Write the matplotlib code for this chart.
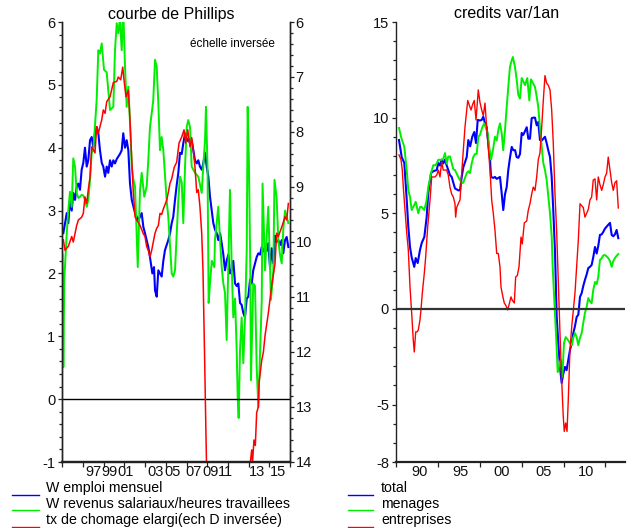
import numpy as np
import matplotlib
matplotlib.use("Agg")
import matplotlib.pyplot as plt
from matplotlib.lines import Line2D

plt.rcParams['font.family'] = ['Liberation Sans', 'DejaVu Sans']
plt.rcParams['axes.unicode_minus'] = False

# ---- left panel: courbe de Phillips (decimal year, value) ----
emploi = [(1995.10, 2.64), (1995.43, 2.96), (1995.58, 2.8), (1995.74, 3.17), (1995.91, 3.0),
          (1996.06, 3.28), (1996.23, 3.17), (1996.39, 3.38), (1996.55, 3.43), (1996.71, 3.33),
          (1996.87, 3.65), (1997.03, 3.76), (1997.19, 4.0), (1997.36, 3.7), (1997.51, 3.8),
          (1997.68, 4.12), (1997.84, 4.17), (1998.00, 4.0), (1998.16, 4.23), (1998.32, 4.33),
          (1998.48, 4.23), (1998.64, 3.96), (1998.81, 3.76), (1998.96, 3.7), (1999.13, 3.54),
          (1999.29, 3.7), (1999.44, 3.6), (1999.61, 3.8), (1999.77, 3.7), (1999.93, 3.8),
          (2000.09, 3.75), (2000.26, 3.82), (2000.41, 3.86), (2000.57, 3.9), (2000.74, 3.96),
          (2000.89, 4.23), (2001.06, 4.0), (2001.22, 4.12), (2001.38, 3.96), (2001.54, 3.43),
          (2001.71, 3.17), (2002.03, 2.96), (2002.34, 2.85), (2002.51, 2.9), (2002.67, 2.96),
          (2002.83, 2.74), (2002.99, 2.64), (2003.31, 2.42), (2003.47, 2.26), (2003.70, 2.0),
          (2003.86, 2.1), (2003.96, 1.73), (2004.12, 1.63), (2004.28, 2.05), (2004.44, 2.0),
          (2004.60, 1.95), (2004.76, 2.2), (2004.92, 2.37), (2005.24, 2.53), (2005.41, 2.64),
          (2005.57, 2.8), (2005.72, 2.9), (2005.89, 3.17), (2006.05, 3.4), (2006.21, 3.6),
          (2006.37, 3.92), (2006.54, 3.9), (2006.69, 4.07), (2006.86, 4.23), (2007.02, 4.1),
          (2007.17, 4.15), (2007.34, 4.07), (2007.50, 4.12), (2007.66, 3.96), (2007.82, 3.8),
          (2007.99, 3.75), (2008.14, 3.8), (2008.30, 3.7), (2008.47, 3.65), (2008.62, 3.75),
          (2008.79, 3.92), (2008.95, 3.7), (2009.11, 3.54), (2009.27, 3.22), (2009.44, 3.0),
          (2009.59, 2.8), (2009.75, 2.7), (2009.92, 2.64), (2010.07, 2.53), (2010.24, 2.64),
          (2010.40, 2.48), (2010.56, 2.3), (2010.72, 2.05), (2010.88, 2.2), (2011.04, 2.3),
          (2011.20, 2.0), (2011.37, 2.05), (2011.52, 2.2), (2011.69, 1.84), (2011.85, 1.8),
          (2012.01, 1.84), (2012.17, 1.53), (2012.33, 1.5), (2012.49, 1.37), (2012.65, 1.3),
          (2012.82, 1.6), (2012.97, 1.63), (2013.14, 1.9), (2013.30, 1.84), (2013.45, 2.05),
          (2013.62, 2.16), (2013.78, 2.26), (2013.94, 2.32), (2014.11, 2.3), (2014.27, 2.42),
          (2014.43, 2.35), (2014.59, 2.42), (2014.75, 2.36), (2014.90, 2.48), (2015.07, 2.1),
          (2015.23, 2.4), (2015.39, 2.16), (2015.55, 2.6), (2015.71, 2.5), (2015.87, 2.53),
          (2016.03, 2.45), (2016.20, 2.53), (2016.35, 2.32), (2016.52, 2.53), (2016.68, 2.58),
          (2016.84, 2.42)]

revenus = [(1995.02, 2.3), (1995.10, 0.51), (1995.19, 1.9), (1995.43, 2.64), (1995.58, 3.0),
           (1995.74, 3.3), (1995.91, 3.06), (1996.06, 3.83), (1996.23, 3.7), (1996.39, 3.28),
           (1996.55, 3.2), (1996.71, 3.22), (1996.87, 3.25), (1997.03, 3.24), (1997.19, 3.17),
           (1997.36, 3.06), (1997.51, 3.17), (1997.68, 3.49), (1997.84, 3.92), (1998.00, 3.96),
           (1998.32, 4.76), (1998.48, 5.55), (1998.64, 5.5), (1998.81, 5.66), (1999.03, 5.24),
           (1999.29, 5.2), (1999.61, 4.6), (1999.93, 4.65), (2000.09, 5.55), (2000.26, 5.98),
           (2000.41, 5.82), (2000.57, 6.05), (2000.74, 5.55), (2000.89, 6.2), (2001.06, 5.29),
           (2001.22, 4.65), (2001.38, 4.97), (2001.54, 4.4), (2001.71, 3.7), (2001.86, 3.5),
           (2002.03, 3.38), (2002.29, 2.1), (2002.51, 3.33), (2002.67, 3.6), (2002.92, 3.22),
           (2003.15, 3.38), (2003.31, 3.8), (2003.47, 4.33), (2003.64, 4.55), (2003.79, 4.76),
           (2003.96, 5.4), (2004.12, 5.29), (2004.28, 4.7), (2004.44, 3.96), (2004.60, 4.17),
           (2004.76, 3.96), (2005.09, 3.15), (2005.24, 2.9), (2005.57, 2.0), (2005.72, 1.95),
           (2005.89, 2.05), (2006.21, 3.17), (2006.37, 3.54), (2006.54, 3.45), (2006.69, 2.8),
           (2006.86, 3.7), (2007.02, 4.33), (2007.17, 4.44), (2007.34, 4.33), (2007.50, 3.7),
           (2007.82, 3.6), (2008.14, 3.54), (2008.47, 3.28), (2008.62, 3.7), (2008.79, 4.12),
           (2008.88, 4.65), (2009.03, 3.7), (2009.14, 1.53), (2009.27, 1.84), (2009.44, 2.2),
           (2009.69, 2.1), (2009.75, 2.53), (2010.07, 3.06), (2010.24, 2.53), (2010.40, 2.1),
           (2010.56, 1.84), (2010.72, 1.69), (2010.88, 0.94), (2011.04, 2.1), (2011.20, 3.33),
           (2011.37, 2.1), (2011.52, 1.3), (2011.69, 1.6), (2011.85, 0.78), (2011.95, 0.0),
           (2012.04, -0.3), (2012.17, 0.78), (2012.33, 1.3), (2012.49, 0.57), (2012.65, 1.3),
           (2012.82, 2.37), (2012.91, 4.65), (2013.04, 3.7), (2013.16, 2.1), (2013.23, 0.3),
           (2013.45, 1.84), (2013.62, 1.8), (2013.78, 0.51), (2013.94, -0.13), (2014.11, 0.78),
           (2014.27, 1.58), (2014.35, 3.43), (2014.49, 2.6), (2014.59, 2.05), (2014.75, 2.6),
           (2014.90, 3.06), (2015.02, 2.4), (2015.16, 1.58), (2015.39, 2.05), (2015.50, 3.49),
           (2015.71, 3.2), (2015.87, 2.53), (2016.03, 2.3), (2016.20, 2.16), (2016.35, 2.7),
           (2016.52, 3.0), (2016.68, 2.9), (2016.84, 2.8)]

# taux de chomage elargi, right axis (inverted)
chomage = [(1995.10, 9.96), (1995.26, 10.15), (1995.58, 10.08), (1995.91, 9.9), (1996.06, 10.0),
           (1996.39, 9.7), (1996.55, 9.6), (1996.87, 9.55), (1997.03, 9.48), (1997.19, 9.18),
           (1997.36, 9.3), (1997.51, 9.05), (1997.68, 8.82), (1997.84, 8.27), (1998.16, 8.38),
           (1998.32, 7.9), (1998.48, 8.02), (1998.81, 7.78), (1998.96, 7.6), (1999.13, 7.66),
           (1999.29, 7.45), (1999.61, 7.36), (1999.93, 7.1), (2000.26, 7.08), (2000.41, 7.0),
           (2000.64, 7.05), (2000.84, 6.82), (2000.96, 7.05), (2001.15, 7.36), (2001.38, 7.24),
           (2001.54, 7.78), (2001.71, 8.5), (2001.86, 9.1), (2002.03, 9.54), (2002.19, 9.6),
           (2002.51, 9.7), (2002.83, 9.85), (2002.99, 9.9), (2003.15, 10.08), (2003.31, 10.15),
           (2003.47, 10.27), (2003.64, 10.15), (2003.79, 10.0), (2003.96, 9.84), (2004.12, 9.75),
           (2004.28, 9.7), (2004.44, 9.48), (2004.60, 9.5), (2004.76, 9.4), (2005.09, 9.24),
           (2005.24, 9.1), (2005.41, 8.93), (2005.57, 8.85), (2005.82, 8.64), (2006.05, 8.55),
           (2006.28, 8.2), (2006.54, 8.09), (2006.76, 7.96), (2006.92, 8.2), (2007.12, 7.96),
           (2007.34, 8.27), (2007.50, 8.1), (2007.66, 8.33), (2007.82, 8.64), (2007.99, 9.1),
           (2008.14, 9.05), (2008.30, 9.36), (2008.47, 9.84), (2008.59, 10.5), (2008.74, 12.0),
           (2008.88, 13.5), (2009.03, 15.0), (2009.17, 16.0), (2009.75, 17.0), (2010.43, 17.1),
           (2011.20, 16.5), (2011.98, 15.8), (2012.65, 14.8), (2013.04, 14.3), (2013.14, 14.05),
           (2013.30, 13.78), (2013.38, 14.0), (2013.52, 13.6), (2013.65, 13.7), (2013.78, 13.1),
           (2013.94, 13.0), (2014.01, 12.56), (2014.27, 12.15), (2014.43, 12.0), (2014.59, 11.7),
           (2014.90, 11.3), (2015.23, 10.8), (2015.55, 10.4), (2015.71, 9.84), (2015.87, 9.9),
           (2016.20, 9.73), (2016.52, 9.54), (2016.68, 9.6), (2016.84, 9.3)]

left_labels = ['97', '99', '01', '03', '05', '07', '09', '11', '13', '15']
left_label_pos = [1998.06, 1999.58, 2001.09, 2004.02, 2005.63, 2007.72, 2009.37, 2010.79, 2013.78, 2015.84]

# ---- right panel: credits var/1an ----
total = [(1988.36, 8.83), (1988.68, 7.94), (1988.99, 7.63), (1989.28, 5.7), (1989.47, 4.3),
         (1989.67, 3.24), (1989.87, 2.7), (1990.18, 2.2), (1990.35, 2.66), (1990.59, 2.4),
         (1990.86, 3.08), (1991.07, 3.45), (1991.38, 3.76), (1991.66, 4.8), (1991.85, 6.06),
         (1992.18, 7.1), (1992.45, 7.2), (1992.86, 7.26), (1993.05, 7.63), (1993.25, 7.5),
         (1993.45, 7.8), (1993.64, 7.6), (1993.85, 7.8), (1994.05, 7.5), (1994.24, 7.26),
         (1994.44, 7.0), (1994.65, 6.9), (1994.84, 6.6), (1995.04, 6.3), (1995.43, 6.2),
         (1995.64, 6.2), (1995.84, 6.9), (1996.03, 7.4), (1996.44, 7.94), (1996.63, 8.83),
         (1996.85, 8.5), (1997.10, 9.0), (1997.34, 9.25), (1997.55, 8.67), (1997.75, 9.88),
         (1998.02, 9.85), (1998.23, 9.88), (1998.42, 10.05), (1998.62, 9.7), (1998.82, 9.5),
         (1999.01, 8.67), (1999.22, 7.8), (1999.34, 6.9), (1999.61, 6.85), (1999.81, 6.9),
         (2000.02, 6.8), (2000.41, 6.9), (2000.61, 6.06), (2000.80, 5.17), (2001.01, 6.0),
         (2001.21, 6.37), (2001.40, 7.26), (2001.60, 7.9), (2001.81, 8.47), (2002.00, 8.3),
         (2002.21, 8.3), (2002.40, 7.94), (2002.60, 7.9), (2002.80, 8.1), (2003.00, 9.2),
         (2003.19, 9.1), (2003.40, 9.3), (2003.60, 9.5), (2003.79, 8.9), (2003.99, 8.9),
         (2004.19, 9.97), (2004.38, 10.0), (2004.59, 10.0), (2004.79, 9.6), (2004.98, 9.77),
         (2005.18, 8.83), (2005.39, 8.8), (2005.58, 8.9), (2005.78, 9.0), (2005.98, 8.67),
         (2006.17, 8.3), (2006.38, 7.94), (2006.58, 6.9), (2006.77, 5.17), (2006.97, 3.08),
         (2007.18, -0.42), (2007.37, -1.78), (2007.57, -3.03), (2007.77, -3.87), (2007.96, -3.4),
         (2008.17, -3.03), (2008.36, -3.2), (2008.56, -2.67), (2008.76, -2.15), (2008.97, -1.8),
         (2009.16, -1.26), (2009.36, -0.9), (2009.56, -0.42), (2009.76, -0.3), (2009.96, 0.63),
         (2010.16, 0.83), (2010.35, 1.2), (2010.55, 1.52), (2010.75, 1.8), (2010.95, 2.14),
         (2011.15, 2.2), (2011.35, 2.3), (2011.54, 2.7), (2011.75, 3.24), (2011.95, 2.9),
         (2012.14, 3.3), (2012.34, 3.87), (2012.55, 3.9), (2012.74, 4.03), (2012.94, 4.2),
         (2013.33, 4.4), (2013.54, 4.5), (2013.74, 3.87), (2013.93, 3.8), (2014.13, 3.9),
         (2014.33, 4.13), (2014.53, 3.7)]

menages = [(1988.36, 9.46), (1988.60, 9.0), (1988.99, 8.47), (1989.28, 7.26), (1989.47, 6.2),
           (1989.67, 5.85), (1989.87, 5.17), (1990.06, 5.33), (1990.35, 5.6), (1990.66, 5.0),
           (1990.86, 5.33), (1991.07, 5.33), (1991.38, 5.17), (1991.66, 5.7), (1991.85, 6.37),
           (1992.18, 7.1), (1992.45, 7.52), (1992.66, 7.5), (1992.86, 7.6), (1993.05, 7.8),
           (1993.45, 7.8), (1993.64, 7.85), (1993.85, 8.15), (1994.05, 7.6), (1994.24, 7.97),
           (1994.44, 7.97), (1994.65, 7.63), (1994.84, 7.3), (1995.04, 7.26), (1995.43, 6.9),
           (1995.84, 6.58), (1996.03, 6.6), (1996.44, 7.1), (1996.63, 7.2), (1996.83, 7.1),
           (1997.03, 7.6), (1997.22, 7.94), (1997.43, 8.1), (1997.63, 8.1), (1997.82, 8.99),
           (1998.02, 9.1), (1998.30, 9.5), (1998.54, 9.7), (1998.70, 9.5), (1998.94, 9.2),
           (1999.13, 8.47), (1999.34, 7.8), (1999.57, 8.3), (1999.81, 9.0), (2000.02, 8.8),
           (2000.21, 9.35), (2000.41, 9.7), (2000.61, 9.2), (2000.80, 8.3), (2001.01, 9.35),
           (2001.21, 10.56), (2001.40, 11.6), (2001.60, 12.65), (2001.81, 13.0), (2001.95, 13.17),
           (2002.20, 12.65), (2002.40, 12.0), (2002.59, 11.2), (2002.80, 11.0), (2003.00, 12.07),
           (2003.19, 11.9), (2003.40, 11.7), (2003.67, 12.07), (2003.91, 10.9), (2004.11, 12.0),
           (2004.35, 11.8), (2004.59, 11.6), (2004.79, 11.1), (2004.98, 10.56), (2005.18, 9.5),
           (2005.39, 8.47), (2005.58, 7.63), (2005.78, 7.26), (2005.98, 6.74), (2006.38, 5.0),
           (2006.58, 3.8), (2006.70, 2.2), (2006.89, 0.47), (2007.09, -1.26), (2007.30, -3.3),
           (2007.45, -3.0), (2007.65, -2.67), (2007.85, -3.55), (2008.05, -1.78), (2008.25, -1.47),
           (2008.49, -1.6), (2008.76, -1.78), (2008.97, -1.9), (2009.16, -1.5), (2009.36, -1.26),
           (2009.56, -1.47), (2009.76, -1.9), (2009.96, -1.5), (2010.16, -1.26), (2010.35, -0.73),
           (2010.55, -0.21), (2010.75, 0.1), (2010.95, 0.57), (2011.15, 0.4), (2011.35, 0.3),
           (2011.54, 0.99), (2011.75, 1.41), (2011.95, 1.3), (2012.14, 1.67), (2012.34, 2.56),
           (2012.55, 2.66), (2012.74, 2.8), (2012.94, 2.82), (2013.13, 2.75), (2013.33, 2.66),
           (2013.54, 2.5), (2013.74, 2.2), (2013.93, 2.5), (2014.13, 2.66), (2014.33, 2.78),
           (2014.53, 2.87)]

entreprises = [(1988.36, 8.05), (1988.60, 7.8), (1988.75, 7.26), (1988.87, 6.37), (1989.07, 5.17),
               (1989.28, 3.97), (1989.47, 3.08), (1989.67, 1.15), (1989.87, -0.21), (1990.06, -1.62),
               (1990.18, -2.25), (1990.35, -1.2), (1990.51, -1.2), (1990.66, -1.1), (1990.86, -0.58),
               (1990.98, -0.05), (1991.14, 0.83), (1991.38, 1.88), (1991.54, 2.7), (1991.78, 4.28),
               (1992.06, 5.7), (1992.26, 6.9), (1992.45, 6.9), (1992.65, 6.9), (1992.86, 7.0),
               (1993.05, 7.26), (1993.25, 6.9), (1993.45, 7.68), (1993.64, 7.26), (1993.85, 7.26),
               (1994.05, 7.26), (1994.24, 7.0), (1994.44, 6.37), (1994.65, 6.0), (1994.84, 5.85),
               (1995.04, 5.5), (1995.12, 4.8), (1995.24, 5.3), (1995.43, 5.5), (1995.64, 5.7),
               (1995.84, 7.1), (1996.03, 8.3), (1996.23, 9.5), (1996.56, 10.9), (1996.71, 10.7),
               (1996.95, 10.4), (1997.15, 10.7), (1997.34, 10.9), (1997.55, 9.88), (1997.82, 11.45),
               (1998.02, 10.8), (1998.23, 10.4), (1998.42, 10.1), (1998.62, 10.76), (1998.82, 9.5),
               (1999.01, 8.47), (1999.22, 7.26), (1999.42, 5.7), (1999.61, 5.0), (1999.81, 4.13),
               (2000.02, 2.9), (2000.21, 2.9), (2000.41, 2.2), (2000.53, 1.15), (2000.68, 0.8),
               (2000.92, 0.31), (2001.09, 0.2), (2001.33, -0.05), (2001.48, 0.2), (2001.72, 0.63),
               (2001.88, 0.45), (2002.12, 0.31), (2002.28, 1.67), (2002.48, 1.75), (2002.68, 2.2),
               (2002.92, 3.76), (2003.07, 3.4), (2003.31, 4.5), (2003.60, 4.6), (2003.79, 5.17),
               (2003.99, 5.5), (2004.19, 6.0), (2004.38, 6.37), (2004.59, 6.2), (2004.79, 6.9),
               (2004.98, 7.8), (2005.18, 8.15), (2005.39, 9.5), (2005.58, 10.9), (2005.78, 12.2),
               (2005.98, 11.8), (2006.17, 11.7), (2006.38, 11.45), (2006.58, 10.4), (2006.77, 8.67),
               (2006.97, 6.06), (2007.18, 3.97), (2007.37, 1.36), (2007.57, -1.26), (2007.77, -3.7),
               (2007.96, -5.6), (2008.08, -6.4), (2008.25, -5.96), (2008.41, -6.4), (2008.56, -4.76),
               (2008.76, -2.15), (2008.97, -0.94), (2009.16, -0.1), (2009.36, 0.83), (2009.56, 2.2),
               (2009.76, 3.6), (2009.96, 5.5), (2010.16, 5.4), (2010.35, 5.3), (2010.55, 4.8),
               (2010.75, 5.0), (2010.95, 5.2), (2011.15, 5.7), (2011.35, 5.85), (2011.54, 6.74),
               (2011.75, 6.8), (2011.95, 5.7), (2012.14, 6.9), (2012.34, 6.5), (2012.55, 6.2),
               (2012.74, 6.5), (2012.94, 6.9), (2013.14, 7.1), (2013.33, 7.94), (2013.54, 7.26),
               (2013.74, 6.6), (2013.93, 6.2), (2014.13, 6.6), (2014.33, 6.7), (2014.53, 5.28)]

right_labels = ['90', '95', '00', '05', '10']
right_label_pos = [1990.86, 1995.72, 2000.65, 2005.66, 2010.64]

BLUE, GREEN, RED = '#0000ff', '#00ee00', '#ff0000'
AXC = '#222222'

fig = plt.figure(figsize=(6.34, 5.28), dpi=100)
W, H = 634.0, 528.0
ax = fig.add_axes([62.3 / W, 1 - 462 / H, 227.7 / W, 440 / H])
axr = ax.twinx()
ax2 = fig.add_axes([396 / W, 1 - 462 / H, 229 / W, 440 / H])


def style(a, spines):
    for s in ['top', 'right', 'left', 'bottom']:
        a.spines[s].set_visible(s in spines)
        a.spines[s].set_color(AXC)
        a.spines[s].set_linewidth(1.0)
    a.spines['bottom'].set_linewidth(1.6)
    a.tick_params(axis='both', which='both', direction='out', color=AXC,
                  width=0.9, labelsize=10.5, colors=AXC, labelcolor='#111111')
    a.tick_params(axis='y', which='major', length=3, pad=2)
    a.tick_params(axis='y', which='minor', length=2.5)
    a.tick_params(axis='x', which='major', length=3.5, labelbottom=False)
    a.tick_params(axis='x', which='minor', length=0, pad=2)


# left panel
x, y = np.array(emploi).T
ax.plot(x, y, color=BLUE, lw=1.5)
x, y = np.array(revenus).T
ax.plot(x, y, color=GREEN, lw=1.4)
ax.axhline(0, color='black', lw=1.0)
ax.set_xlim(1995, 2017)
ax.set_ylim(-1, 6)
ax.set_yticks(np.arange(-1, 7, 1))
ax.set_yticks(np.arange(-1, 6.01, 0.2), minor=True)
ax.set_xticks(np.arange(1995, 2018, 2))
ax.set_xticks(left_label_pos, minor=True)
ax.set_xticklabels(left_labels, minor=True)
style(ax, ['left', 'bottom', 'right'])

x, y = np.array(chomage).T
axr.plot(x, y, color=RED, lw=1.1)
axr.set_ylim(14, 6)
axr.set_yticks(np.arange(6, 15, 1))
axr.set_yticks(np.arange(6, 14.01, 0.2), minor=True)
style(axr, ['left', 'bottom', 'right'])
axr.tick_params(axis='y', which='major', pad=1)

# right panel
x, y = np.array(total).T
ax2.plot(x, y, color=BLUE, lw=1.5)
x, y = np.array(menages).T
ax2.plot(x, y, color=GREEN, lw=1.4)
x, y = np.array(entreprises).T
ax2.plot(x, y, color=RED, lw=1.0)
ax2.axhline(0, color='#333333', lw=1.6)
ax2.set_xlim(1988, 2015.33)
ax2.set_ylim(-8, 15)
ax2.set_yticks([15, 10, 5, 0, -5, -8])
ax2.set_yticks(np.arange(-8, 16, 1), minor=True)
ax2.set_xticks(np.arange(1988, 2015, 5))
ax2.set_xticks(right_label_pos, minor=True)
ax2.set_xticklabels(right_labels, minor=True)
style(ax2, ['left', 'bottom'])

# titles and notes
fig.text(171 / W, 1 - 14 / H, 'courbe de Phillips', ha='center', va='center', fontsize=11.5)
fig.text(507 / W, 1 - 14 / H, 'credits var/1an', ha='center', va='center', fontsize=11.5)
fig.text(190 / W, 1 - 44 / H, 'échelle inversée', ha='left', va='center', fontsize=8.5)

# legends drawn below the panels
rows_text = [488, 504, 520]
rows_line = [494.5, 509.5, 526.5]
left_leg = ['W emploi mensuel', 'W revenus salariaux/heures travaillees',
            'tx de chomage elargi(ech D inversée)']
right_leg = ['total', 'menages', 'entreprises']
for (lx0, lx1, tx), names in [((11.5, 38.5, 46), left_leg), ((347.5, 373, 381), right_leg)]:
    for name, col, yt, yl in zip(names, [BLUE, GREEN, RED], rows_text, rows_line):
        fig.add_artist(Line2D([lx0 / W, lx1 / W], [1 - yl / H, 1 - yl / H], color=col, lw=1.0))
        fig.text(tx / W, 1 - yt / H, name, ha='left', va='center', fontsize=10.2)

fig.savefig('out.png', dpi=100)
